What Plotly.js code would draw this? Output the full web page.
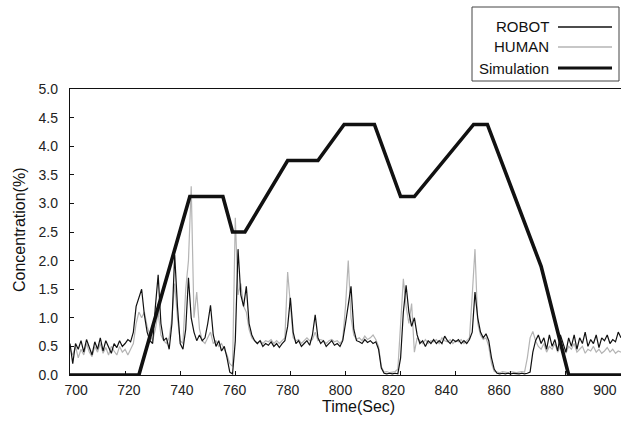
<!DOCTYPE html>
<html>
<head>
<meta charset="utf-8">
<script src="https://cdn.plot.ly/plotly-3.0.1.min.js"></script>
<style>html,body{margin:0;padding:0;background:#fff;}#chart{width:621px;height:423px;}</style>
</head>
<body>
<div id="chart"></div>
<script>
// sample times (1 s sampling), 700..900 s
const timeSec = Array.from({length: 201}, (_, i) => 700 + i);

const robotConc = [
0.55,0.20,0.55,0.45,0.60,0.40,0.62,0.50,0.35,0.58,
0.45,0.65,0.42,0.60,0.50,0.38,0.55,0.48,0.60,0.50,
0.55,0.62,0.58,0.75,1.20,1.35,1.50,1.05,0.75,0.60,
0.55,1.20,1.75,0.90,0.60,0.65,0.45,0.90,2.10,1.20,
0.55,0.45,0.80,1.70,1.00,0.75,0.60,0.70,0.60,0.65,
0.90,1.22,0.70,0.50,0.60,0.42,0.50,0.30,0.05,0.02,
0.60,2.20,1.40,1.20,1.55,0.90,0.70,0.60,0.55,0.60,
0.50,0.55,0.52,0.58,0.50,0.55,0.48,0.55,0.60,0.85,
1.35,0.75,0.55,0.60,0.50,0.55,0.60,0.52,0.70,1.05,
0.65,0.55,0.60,0.50,0.55,0.60,0.52,0.55,0.50,0.60,
0.90,1.20,1.55,0.80,0.60,0.58,0.55,0.62,0.57,0.60,
0.55,0.58,0.45,0.12,0.03,0.02,0.03,0.02,0.03,0.02,
0.30,1.10,1.57,1.10,0.85,1.00,0.70,0.55,0.60,0.50,
0.60,0.55,0.62,0.55,0.60,0.55,0.68,0.60,0.55,0.62,
0.58,0.62,0.55,0.60,0.55,0.62,0.75,1.45,1.00,0.75,
0.65,0.72,0.60,0.30,0.10,0.03,0.02,0.03,0.02,0.03,
0.02,0.03,0.02,0.02,0.03,0.02,0.03,0.05,0.40,0.60,
0.70,0.55,0.65,0.45,0.70,0.50,0.62,0.42,0.70,0.55,
0.40,0.65,0.50,0.70,0.45,0.65,0.55,0.75,0.50,0.62,
0.55,0.70,0.48,0.65,0.60,0.70,0.55,0.62,0.58,0.75,
0.65
];

const humanConc = [
0.45,0.35,0.50,0.30,0.45,0.35,0.55,0.40,0.32,0.50,
0.40,0.55,0.38,0.48,0.35,0.50,0.42,0.35,0.50,0.40,
0.45,0.35,0.45,0.55,0.90,1.10,1.00,1.10,0.85,0.70,
0.60,0.80,1.10,0.70,0.60,0.55,0.65,1.00,1.60,1.00,
0.60,0.55,1.50,2.00,3.30,1.00,1.45,0.80,0.60,0.55,
0.65,0.75,0.55,0.60,0.50,0.55,0.45,0.35,0.20,0.15,
2.75,1.40,1.60,1.20,1.10,0.80,0.65,0.60,0.55,0.60,
0.55,0.60,0.58,0.62,0.55,0.60,0.55,0.60,0.65,1.80,
1.20,0.65,0.60,0.62,0.55,0.60,0.65,0.60,0.62,0.75,
0.60,0.62,0.60,0.55,0.60,0.62,0.58,0.60,0.55,0.62,
1.20,2.00,1.00,0.70,0.62,0.65,0.60,0.68,0.62,0.65,
0.70,0.62,0.50,0.15,0.05,0.06,0.04,0.05,0.06,0.10,
0.90,1.68,1.20,0.90,1.25,0.40,0.65,0.60,0.55,0.62,
0.55,0.60,0.58,0.62,0.55,0.65,0.60,0.58,0.62,0.55,
0.60,0.58,0.62,0.55,0.60,0.65,1.40,2.20,0.90,0.70,
0.62,0.65,0.50,0.20,0.06,0.05,0.04,0.06,0.05,0.04,
0.06,0.05,0.04,0.05,0.06,0.05,0.30,0.65,0.76,0.60,
0.50,0.45,0.55,0.40,0.50,0.45,0.55,0.40,0.50,0.45,
0.38,0.50,0.45,0.55,0.40,0.45,0.50,0.38,0.45,0.42,
0.50,0.40,0.45,0.38,0.42,0.48,0.40,0.45,0.38,0.42,
0.40
];

const simTime = [700, 725, 743.5, 755.5, 759, 763.5, 779, 790, 799.5, 810.5, 820, 825, 846.5, 851.5, 871, 881, 900];
const simConc = [0, 0, 3.12, 3.12, 2.5, 2.5, 3.75, 3.75, 4.38, 4.38, 3.12, 3.12, 4.38, 4.38, 1.9, 0, 0];

const xTickVals = [700, 720, 740, 760, 780, 800, 820, 840, 860, 880, 900];
const yTickVals = [0, 0.5, 1, 1.5, 2, 2.5, 3, 3.5, 4, 4.5, 5];

const legendNames = ['ROBOT', 'HUMAN', 'Simulation'];
const seriesColors = ['#111111', '#b4b4b4', '#111111'];
const seriesWidths = [1.2, 1.2, 3.6];

const traces = [
  {x: timeSec, y: humanConc, type: 'scatter', mode: 'lines', name: legendNames[1],
   line: {color: seriesColors[1], width: seriesWidths[1]}, showlegend: false},
  {x: timeSec, y: robotConc, type: 'scatter', mode: 'lines', name: legendNames[0],
   line: {color: seriesColors[0], width: seriesWidths[0]}, showlegend: false},
  {x: simTime, y: simConc, type: 'scatter', mode: 'lines', name: legendNames[2],
   line: {color: seriesColors[2], width: seriesWidths[2]}, showlegend: false},
  {x: [], y: [], xaxis: 'x2', yaxis: 'y', type: 'scatter', mode: 'lines', showlegend: false, hoverinfo: 'skip'}
];

const W = 621, H = 423, L = 70, R = 0, T = 89, B = 48;
const pw = W - L - R, ph = H - T - B;
const px = v => (v - L) / pw;
const py = v => (H - B - v) / ph;

const legendRows = [27, 47, 68];
const annotations = legendNames.map((n, i) => ({
  text: n, xref: 'paper', yref: 'paper', x: px(551), y: py(legendRows[i]),
  xanchor: 'right', yanchor: 'middle', showarrow: false,
  font: {family: 'Liberation Sans, Arial, sans-serif', size: 15, color: '#111'}
}));
annotations.push({
  text: 'Time(Sec)', xref: 'paper', yref: 'paper', x: px(358), y: py(406),
  xanchor: 'center', yanchor: 'middle', showarrow: false,
  font: {family: 'Liberation Sans, Arial, sans-serif', size: 16, color: '#111'}
});
annotations.push({
  text: 'Concentration(%)', xref: 'paper', yref: 'paper', x: px(19), y: py(230),
  xanchor: 'center', yanchor: 'middle', showarrow: false, textangle: -90,
  font: {family: 'Liberation Sans, Arial, sans-serif', size: 16, color: '#111'}
});

const shapes = [
  {type: 'rect', xref: 'paper', yref: 'paper', x0: px(472), x1: px(619), y0: py(7), y1: py(81),
   line: {color: '#444', width: 1}, fillcolor: 'rgba(0,0,0,0)'}
];
legendNames.forEach((n, i) => shapes.push({
  type: 'line', xref: 'paper', yref: 'paper', x0: px(558), x1: px(612), y0: py(legendRows[i]), y1: py(legendRows[i]),
  line: {color: seriesColors[i], width: i === 2 ? 3 : 1.5}
}));

const layout = {
  width: W, height: H,
  margin: {l: L, r: R, t: T, b: B, pad: 0},
  paper_bgcolor: '#fff', plot_bgcolor: '#fff',
  font: {family: 'Liberation Sans, Arial, sans-serif', size: 14, color: '#222'},
  showlegend: false,
  xaxis: {range: [700, 900], tickvals: xTickVals, ticks: 'inside', ticklen: 4, tickcolor: '#111',
          showticklabels: false, showgrid: false, zeroline: false,
          showline: true, linecolor: '#111', linewidth: 1.2, mirror: true},
  xaxis2: {overlaying: 'x', anchor: 'y', side: 'bottom', range: [697.7, 906.1], tickvals: xTickVals,
           ticks: '', showgrid: false, zeroline: false, showline: false, ticklabelstandoff: 5,
           tickfont: {size: 14, color: '#222'}},
  yaxis: {range: [0, 5], tickvals: yTickVals, tickformat: '.1f', ticks: 'inside', ticklen: 4, tickcolor: '#111',
          showgrid: false, zeroline: false, showline: true, linecolor: '#111', linewidth: 1.2,
          ticklabelstandoff: 8, tickfont: {size: 14, color: '#222'}},
  annotations: annotations,
  shapes: shapes
};

Plotly.newPlot('chart', traces, layout, {staticPlot: true, displayModeBar: false});
</script>
</body>
</html>
